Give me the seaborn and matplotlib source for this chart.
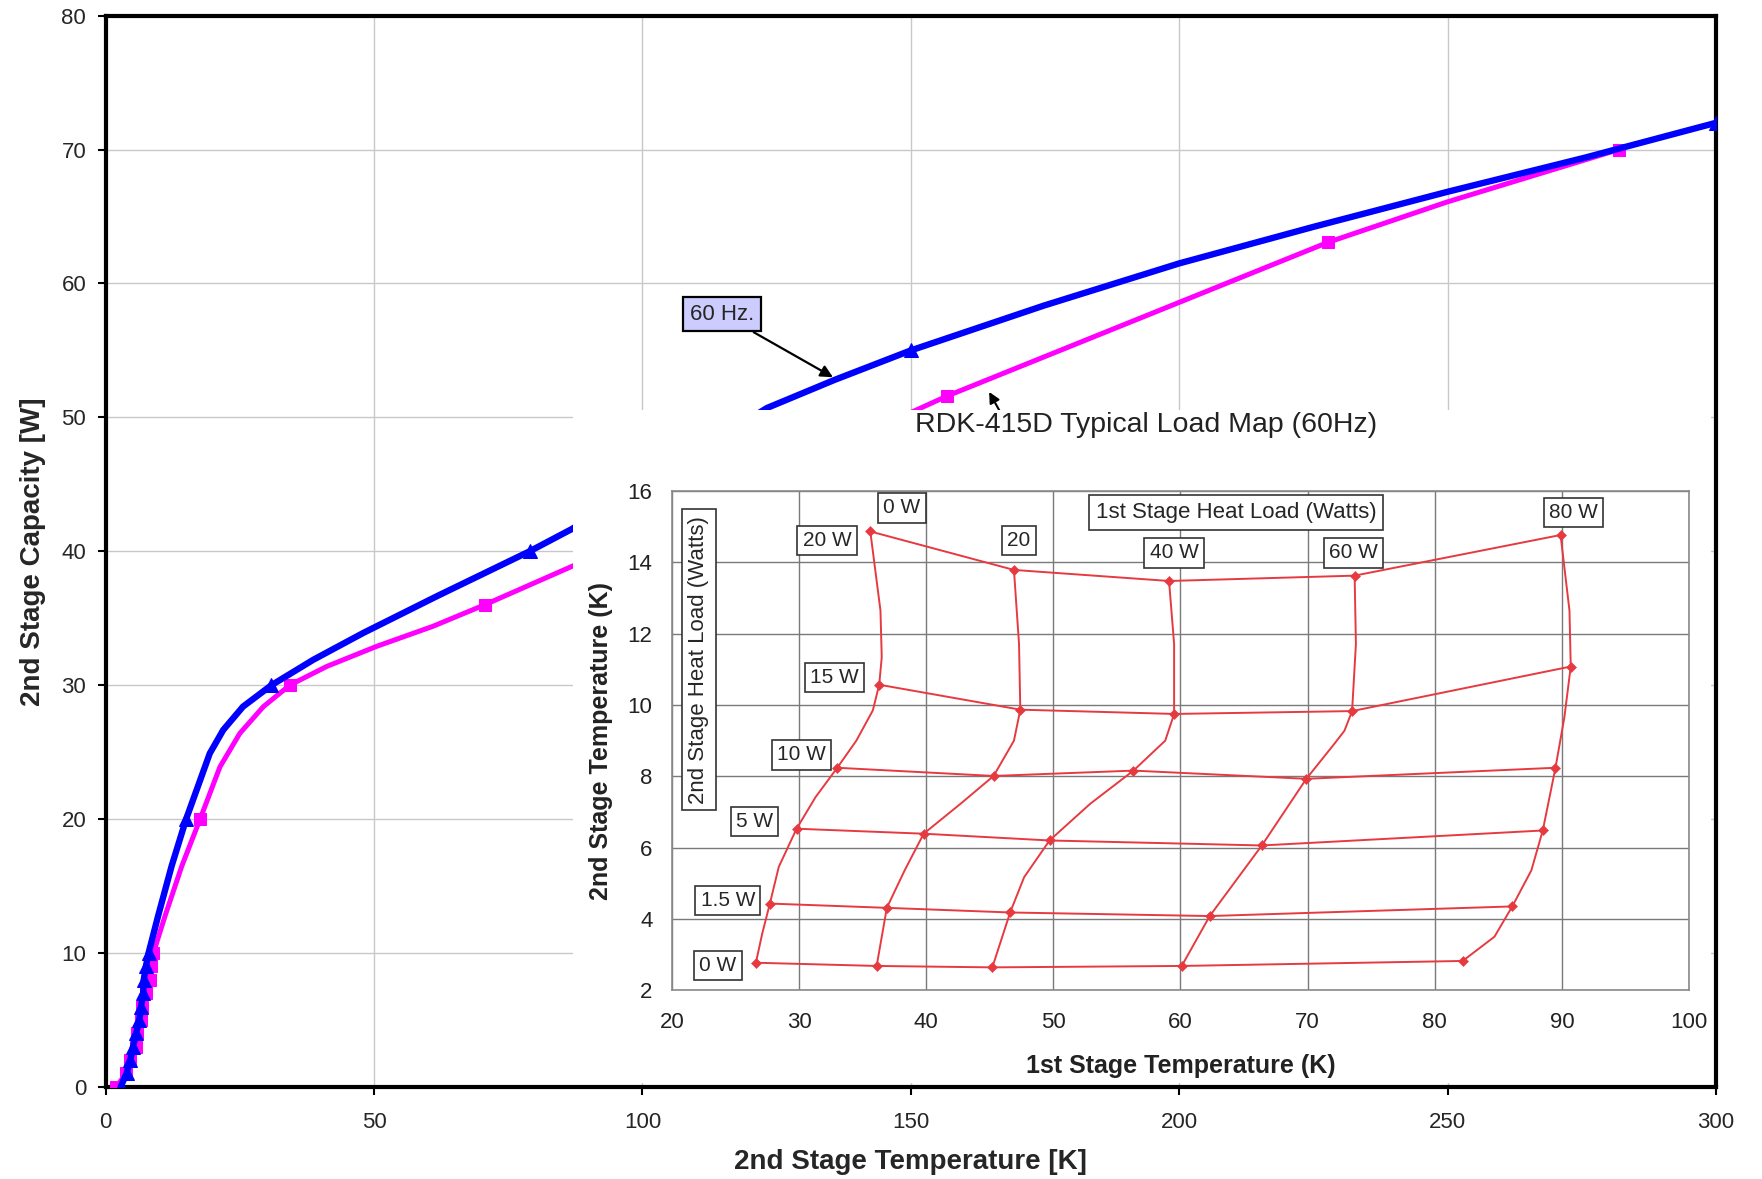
import numpy as np
import pandas as pd
import matplotlib
matplotlib.use("Agg")
import matplotlib.pyplot as plt
import seaborn as sns
from matplotlib.patches import Rectangle

# ---------------- main chart data ----------------
blue_temp = [2.8, 3.9, 4.6, 5.1, 5.7, 6.3, 6.6, 7.0, 7.1, 7.5, 8.0, 9.8, 12.3, 15.0,
             19.4, 21.9, 25.6, 30.9, 38.7, 48.0, 62.0, 79.0, 86.8, 123.2, 135.8,
             150.0, 174.8, 200.0, 225.2, 250.0, 275.6, 300.0]
blue_cap = [0, 1, 2, 3, 4, 5, 6, 7, 8, 9, 10, 12.8, 16.5, 20,
            24.9, 26.65, 28.4, 30, 31.9, 33.9, 36.7, 40, 41.65, 50.7, 52.8,
            55, 58.35, 61.5, 64.25, 66.85, 69.4, 72]
blue_marker_idx = [0, 1, 2, 3, 4, 5, 6, 7, 8, 9, 10, 13, 17, 21, 25, 31]

mag_temp = [2.0, 3.8, 4.5, 5.6, 5.9, 6.6, 6.8, 7.5, 8.2, 8.4, 8.9, 11.1, 14.2, 17.6,
            21.3, 25.0, 29.4, 34.3, 41.2, 50.5, 61.0, 70.6, 86.8, 156.8, 227.7,
            250.0, 281.9]
mag_cap = [0, 1, 2, 3, 4, 5, 6, 7, 8, 9, 10, 12.8, 16.5, 20,
           23.9, 26.4, 28.4, 30, 31.4, 32.9, 34.4, 36, 38.86, 51.6, 63.07,
           66.1, 70]
mag_marker_idx = [0, 1, 2, 3, 4, 5, 6, 7, 8, 9, 10, 13, 17, 21, 23, 24, 26]

x_ticks = [0, 50, 100, 150, 200, 250, 300]
y_ticks = [0, 10, 20, 30, 40, 50, 60, 70, 80]

# ---------------- inset load-map data ----------------
first_loads = [0, 20, 40, 60, 80]            # 1st stage heat load (W)
second_loads = [0, 1.5, 5, 10, 15, 20]      # 2nd stage heat load (W)
# measured operating points (1st stage T, 2nd stage T), ordered by 2nd stage load
t1_0w = [26.6, 27.7, 29.8, 33.0, 36.3, 35.6]
t2_0w = [2.77, 4.43, 6.53, 8.24, 10.57, 14.87]
t1_20w = [36.1, 36.9, 39.8, 45.3, 47.4, 46.9]
t2_20w = [2.68, 4.31, 6.39, 8.01, 9.87, 13.79]
t1_40w = [45.2, 46.6, 49.7, 56.3, 59.5, 59.1]
t2_40w = [2.64, 4.18, 6.20, 8.16, 9.75, 13.48]
t1_60w = [60.1, 62.3, 66.4, 69.9, 73.5, 73.7]
t2_60w = [2.68, 4.08, 6.06, 7.93, 9.83, 13.63]
t1_80w = [82.2, 86.1, 88.5, 89.5, 90.7, 89.9]
t2_80w = [2.82, 4.35, 6.48, 8.24, 11.08, 14.77]

# traced constant-1st-stage-load curves
trace_t1_0w = [26.6, 27.1, 27.7, 28.4, 29.8, 31.3, 33.0, 34.5, 35.8, 36.3, 36.5, 36.4, 35.6]
trace_t2_0w = [2.77, 3.59, 4.43, 5.46, 6.53, 7.42, 8.24, 9.0, 9.85, 10.57, 11.34, 12.65, 14.87]
trace_t1_20w = [36.1, 36.9, 38.3, 39.8, 42.7, 45.3, 46.9, 47.4, 47.3, 46.9]
trace_t2_20w = [2.68, 4.31, 5.36, 6.39, 7.23, 8.01, 9.0, 9.87, 11.71, 13.79]
trace_t1_40w = [45.2, 46.6, 47.7, 49.7, 52.9, 56.3, 58.8, 59.5, 59.5, 59.1]
trace_t2_40w = [2.64, 4.18, 5.17, 6.20, 7.23, 8.16, 9.0, 9.75, 11.71, 13.48]
trace_t1_60w = [60.1, 62.3, 66.4, 69.9, 72.1, 72.9, 73.5, 73.8, 73.7]
trace_t2_60w = [2.68, 4.08, 6.06, 7.93, 8.91, 9.28, 9.83, 11.71, 13.63]
trace_t1_80w = [82.2, 84.7, 86.1, 87.6, 88.5, 89.5, 90.2, 90.7, 90.6, 89.9]
trace_t2_80w = [2.82, 3.50, 4.35, 5.36, 6.48, 8.24, 9.66, 11.08, 12.65, 14.77]

inset_x_ticks = [20, 30, 40, 50, 60, 70, 80, 90, 100]
inset_y_ticks = [2, 4, 6, 8, 10, 12, 14, 16]

top_labels = ["0 W", "20", "40 W", "60 W", "80 W"]
top_label_pos = [(38.1, 15.53), (47.3, 14.62), (59.5, 14.27), (73.6, 14.27), (90.9, 15.40)]
left_labels = ["20 W", "15 W", "10 W", "5 W", "1.5 W", "0 W"]
left_label_pos = [(32.2, 14.62), (32.8, 10.77), (30.2, 8.60), (26.5, 6.73), (24.4, 4.52), (23.6, 2.69)]

# ---------------- styling ----------------
sns.set_style("white")
plt.rcParams['font.family'] = ['Liberation Sans', 'DejaVu Sans']

BLUE = "#0000ff"
MAGENTA = "#ff00ff"
RED = "#e63a40"

fig = plt.figure(figsize=(17.62, 11.79), dpi=100)
ax = fig.add_axes([0.05995, 0.07817, 0.9139, 0.9085])
ax.set_zorder(0)

main_blue = pd.DataFrame({"T": blue_temp, "Q": blue_cap})
main_mag = pd.DataFrame({"T": mag_temp, "Q": mag_cap})

sns.lineplot(data=main_mag, x="T", y="Q", ax=ax, sort=False, estimator=None,
             color=MAGENTA, lw=3.6, marker="s", markersize=9, markevery=mag_marker_idx,
             markeredgecolor=MAGENTA, solid_joinstyle="round", zorder=3)
sns.lineplot(data=main_blue, x="T", y="Q", ax=ax, sort=False, estimator=None,
             color=BLUE, lw=4.6, marker="^", markersize=10, markevery=blue_marker_idx,
             markeredgecolor=BLUE, solid_joinstyle="round", zorder=4)

ax.set_xlim(0, 300)
ax.set_ylim(0, 80)
ax.set_xticks(x_ticks)
ax.set_yticks(y_ticks)
ax.grid(True, color="#c8c8c8", lw=1)
ax.set_axisbelow(True)
for s in ax.spines.values():
    s.set_color("black")
    s.set_linewidth(3)
    s.set_visible(True)
ax.tick_params(axis="both", direction="out", length=6, width=1.5, color="black",
               labelsize=16, bottom=True, left=True)
ax.tick_params(axis="x", pad=12)
ax.tick_params(axis="y", pad=8)
ax.set_xlabel("2nd Stage Temperature [K]", fontsize=20, fontweight="bold")
ax.set_ylabel("2nd Stage Capacity [W]", fontsize=20, fontweight="bold")
ax.xaxis.set_label_coords(0.5, -0.058)
ax.yaxis.set_label_coords(-0.037, 0.5)

ax.annotate("60 Hz.", xy=(135.5, 53.0), xytext=(114.85, 57.7), fontsize=16,
            ha="center", va="center",
            bbox=dict(boxstyle="square,pad=0.3", fc="#ccccff", ec="black", lw=1.6),
            arrowprops=dict(arrowstyle="-|>", color="black", lw=1.6, mutation_scale=18,
                            shrinkA=0, shrinkB=0), zorder=6)
ax.annotate("", xy=(164.6, 51.9), xytext=(166.8, 50.3),
            arrowprops=dict(arrowstyle="-|>", color="black", lw=1.5, mutation_scale=16,
                            shrinkA=0, shrinkB=0), zorder=6)

# white background of the pasted load map
fig.add_artist(Rectangle((0.3253, 0.0818), 0.9712 - 0.3253, 0.652 - 0.0818,
                         transform=fig.transFigure, fc="white", ec="none", zorder=1))

fig.text(0.6505, 0.6397, "RDK-415D Typical Load Map (60Hz)", fontsize=20.5,
         ha="center", va="center", color="#222222", zorder=3)

# ---------------- inset ----------------
ins = fig.add_axes([0.38138, 0.16015, 0.57717, 0.42326])
ins.set_zorder(2)
ins.set_facecolor("white")

rows = []
t1_all = [t1_0w, t1_20w, t1_40w, t1_60w, t1_80w]
t2_all = [t2_0w, t2_20w, t2_40w, t2_60w, t2_80w]
for fl, t1s, t2s in zip(first_loads, t1_all, t2_all):
    for sl, a, b in zip(second_loads, t1s, t2s):
        rows.append({"first": fl, "second": sl, "T1": a, "T2": b})
load_map = pd.DataFrame(rows)

trace_rows = []
tr1_all = [trace_t1_0w, trace_t1_20w, trace_t1_40w, trace_t1_60w, trace_t1_80w]
tr2_all = [trace_t2_0w, trace_t2_20w, trace_t2_40w, trace_t2_60w, trace_t2_80w]
for fl, t1s, t2s in zip(first_loads, tr1_all, tr2_all):
    for a, b in zip(t1s, t2s):
        trace_rows.append({"first": fl, "T1": a, "T2": b})
columns_trace = pd.DataFrame(trace_rows)

by_second = load_map.sort_values(["second", "first"])
sns.lineplot(data=columns_trace, x="T1", y="T2", units="first", estimator=None, sort=False,
             color=RED, lw=1.4, ax=ins, zorder=3)
sns.lineplot(data=by_second, x="T1", y="T2", units="second", estimator=None, sort=False,
             color=RED, lw=1.4, ax=ins, zorder=3)
sns.scatterplot(data=load_map, x="T1", y="T2", color=RED, marker="D", s=26,
                edgecolor=RED, ax=ins, zorder=4)

ins.set_xlim(20, 100)
ins.set_ylim(2, 16)
ins.set_xticks(inset_x_ticks)
ins.set_yticks(inset_y_ticks)
ins.grid(True, color="#7a7a7a", lw=1)
ins.set_axisbelow(True)
for s in ins.spines.values():
    s.set_color("#8a8a8a")
    s.set_linewidth(1.2)
ins.tick_params(axis="both", length=0, labelsize=16, colors="#222222")
ins.tick_params(axis="x", pad=16)
ins.tick_params(axis="y", pad=14)
ins.set_xlabel("1st Stage Temperature (K)", fontsize=18, fontweight="bold", color="#222222")
ins.set_ylabel("2nd Stage Temperature (K)", fontsize=18, fontweight="bold", color="#222222")
ins.xaxis.set_label_coords(0.5, -0.128)
ins.yaxis.set_label_coords(-0.058, 0.5)

box = dict(boxstyle="square,pad=0.25", fc="white", ec="#333333", lw=1.2)
for txt, (px, py) in zip(top_labels, top_label_pos):
    ins.text(px, py, txt, fontsize=15, ha="center", va="center", bbox=box, zorder=5)
for txt, (px, py) in zip(left_labels, left_label_pos):
    ins.text(px, py, txt, fontsize=15, ha="center", va="center", bbox=box, zorder=5)
ins.text(64.4, 15.40, "1st Stage Heat Load (Watts)", fontsize=16, ha="center", va="center",
         bbox=dict(boxstyle="square,pad=0.3", fc="white", ec="#333333", lw=1.2), zorder=5)
ins.text(22.1, 11.27, "2nd Stage Heat Load (Watts)", fontsize=16, ha="center", va="center",
         rotation=90, bbox=dict(boxstyle="square,pad=0.3", fc="white", ec="#333333", lw=1.2),
         zorder=5)

fig.savefig("out.png", dpi=100)
